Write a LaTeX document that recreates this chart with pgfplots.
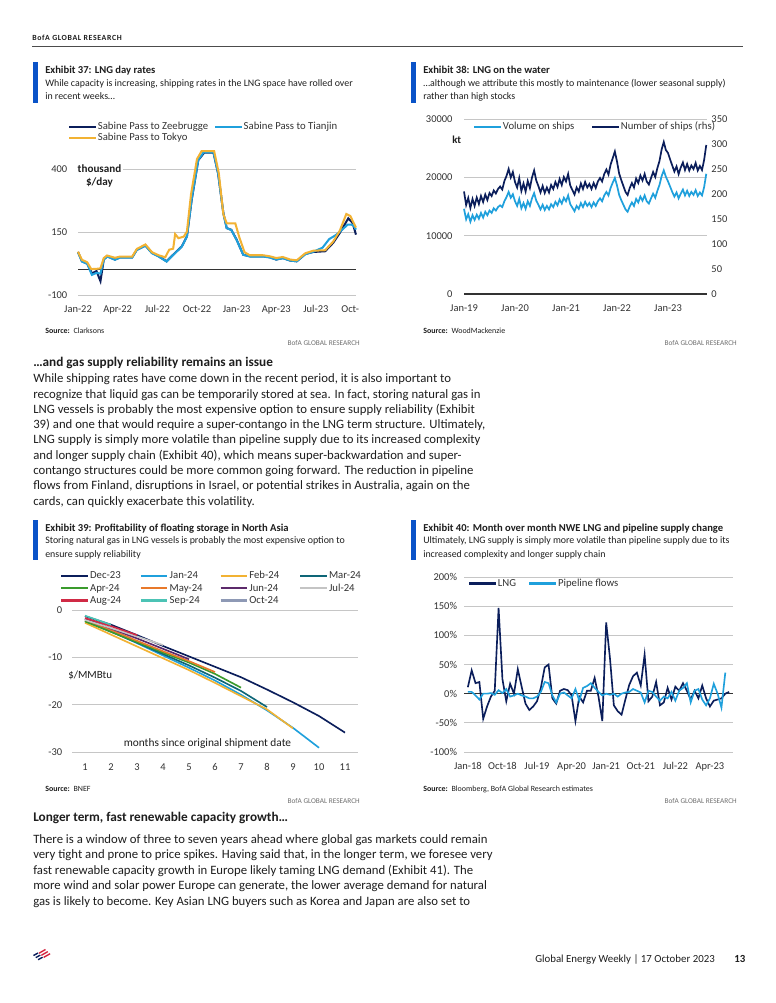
\documentclass[border=0pt]{standalone}
\usepackage{pgfplots}
\pgfplotsset{compat=1.18}
\usepackage{pgfplotstable}
\usepackage{fontspec}
\setmainfont{Carlito}

\definecolor{navy}{HTML}{0B1E5B}
\definecolor{sky}{HTML}{1FA0DC}
\definecolor{gold}{HTML}{F2B233}
\definecolor{barblue}{HTML}{0A53C8}
\definecolor{gridgray}{HTML}{C6C6C6}
\definecolor{ink}{HTML}{1E1E1E}
\definecolor{tickgray}{HTML}{333333}
\definecolor{muted}{HTML}{707070}
\definecolor{bofared}{HTML}{D4213D}
\definecolor{cmar}{HTML}{0E6677}
\definecolor{capr}{HTML}{3A9B2C}
\definecolor{cmay}{HTML}{E8792A}
\definecolor{cjun}{HTML}{5C2A6B}
\definecolor{cjul}{HTML}{C4C4C4}
\definecolor{caug}{HTML}{D02A45}
\definecolor{csep}{HTML}{4CC3B5}
\definecolor{coct}{HTML}{8E99B5}

\newcommand\fs[2]{\fontsize{#1}{#2}\selectfont}
\def\px{0.78968bp}

% Exhibit 38: LNG on the water (semi-monthly reading of the chart)
\pgfplotstableread{
t vol ships
2019.000 14600 205
2019.042 12800 178
2019.083 13700 192
2019.125 12400 172
2019.167 13500 190
2019.208 12700 176
2019.250 13600 193
2019.292 12900 180
2019.333 13900 196
2019.375 13100 184
2019.417 14100 199
2019.458 13500 188
2019.500 14300 202
2019.542 13900 196
2019.583 14700 207
2019.625 14300 201
2019.667 14900 210
2019.708 15200 215
2019.750 14900 209
2019.792 15900 226
2019.833 16600 236
2019.875 17500 250
2019.917 16500 233
2019.958 17100 244
2020.000 15900 224
2020.042 15100 213
2020.083 16300 232
2020.125 14700 206
2020.167 15600 221
2020.208 14600 205
2020.250 15900 226
2020.292 15100 212
2020.333 16400 233
2020.375 17300 247
2020.417 16000 227
2020.458 15300 216
2020.500 14500 203
2020.542 15300 216
2020.583 14400 202
2020.625 15100 213
2020.667 14500 203
2020.708 15400 218
2020.750 14900 210
2020.792 15800 224
2020.833 15200 214
2020.875 16200 230
2020.917 15500 218
2020.958 16500 234
2021.000 15900 225
2021.042 16900 240
2021.083 15400 217
2021.125 14800 208
2021.167 14200 199
2021.208 15100 213
2021.250 14600 205
2021.292 15600 221
2021.333 14900 210
2021.375 15800 224
2021.417 15100 213
2021.458 15600 220
2021.500 14900 210
2021.542 15700 222
2021.583 15100 212
2021.625 15900 225
2021.667 16400 232
2021.708 15900 225
2021.750 16900 240
2021.792 17500 249
2021.833 16900 239
2021.875 18200 259
2021.917 19100 272
2021.958 19900 285
2022.000 18600 265
2022.042 17000 241
2022.083 16100 228
2022.125 15300 216
2022.167 14500 204
2022.208 14100 198
2022.250 15000 212
2022.292 15700 222
2022.333 15100 213
2022.375 16300 231
2022.417 15700 222
2022.458 16700 237
2022.500 16000 227
2022.542 16900 240
2022.583 15900 225
2022.625 15500 219
2022.667 16400 232
2022.708 17200 244
2022.750 16500 234
2022.792 17700 252
2022.833 18700 266
2022.875 20200 289
2022.917 21200 304
2022.958 20100 288
2023.000 19300 282
2023.042 18400 269
2023.083 17500 257
2023.125 16700 245
2023.167 17400 255
2023.208 16400 240
2023.250 17200 253
2023.292 17900 263
2023.333 16900 248
2023.375 17700 260
2023.417 16800 247
2023.458 17500 257
2023.500 17000 250
2023.542 17800 262
2023.583 16800 247
2023.625 17400 256
2023.667 16900 248
2023.708 18300 268
2023.750 20600 298
}\lngwater

\pgfplotsset{
  bofa/.style={
    scale only axis, clip=false,
    axis line style={draw=none},
    tick style={draw=none},
    scaled ticks=false,
    ymajorgrids, grid style={gridgray, line width=0.65pt},
    tick label style={font=\fs{8.3}{9}, text=tickgray},
    xticklabel style={text height=6pt, text depth=1.6pt},
    legend cell align=left,
    legend style={draw=none, fill=none, inner sep=0pt, outer sep=0pt,
      anchor=north west, font=\fs{8.5}{9}, text=tickgray,
      /tikz/column sep=0pt,
      nodes={inner sep=0.6pt, text height=5.8pt, text depth=1.7pt, text=tickgray}},
    legend image code/.code={\draw[##1, line width=2pt] (0bp,0bp) -- (21bp,0bp);},
  },
}

\tikzset{t/.style={anchor=base west, inner sep=0pt, text=ink},
  zero/.style={tickgray, line width=1pt}}

\begin{document}
\begin{tikzpicture}
\begin{scope}[x=\px, y=-\px]
\fill[white] (0,0) rectangle (775,1003);
\path[use as bounding box] (0,0) rectangle (775,1003);

% page header
\node[t, font=\fs{6.2}{7}\bfseries\addfontfeature{LetterSpace=8}] at (32,41) {BofA GLOBAL RESEARCH};
\draw[line width=0.6pt, black!70] (32,46) -- (743,46);

% exhibit headers
\fill[barblue] (33,62) rectangle (38,103);
\fill[barblue] (411,62) rectangle (416,103);
\fill[barblue] (33,520) rectangle (38,560);
\fill[barblue] (411,520) rectangle (416,560);

\node[t, font=\fs{8.4}{10}\bfseries] at (45,74) {Exhibit 37: LNG day rates};
\node[t, font=\fs{7.85}{9}] at (45,86) {While capacity is increasing, shipping rates in the LNG space have rolled over};
\node[t, font=\fs{7.85}{9}] at (45,100) {in recent weeks…};

\node[t, font=\fs{8.4}{10}\bfseries] at (423,74) {Exhibit 38: LNG on the water};
\node[t, font=\fs{7.85}{9}] at (423,86) {…although we attribute this mostly to maintenance (lower seasonal supply)};
\node[t, font=\fs{7.85}{9}] at (423,100) {rather than high stocks};

\node[t, font=\fs{8.4}{10}\bfseries] at (45,531) {Exhibit 39: Profitability of floating storage in North Asia};
\node[t, font=\fs{7.85}{9}] at (45,543) {Storing natural gas in LNG vessels is probably the most expensive option to};
\node[t, font=\fs{7.85}{9}] at (45,557) {ensure supply reliability};

\node[t, font=\fs{8.4}{10}\bfseries] at (423,531) {Exhibit 40: Month over month NWE LNG and pipeline supply change};
\node[t, font=\fs{7.85}{9}] at (423,543) {Ultimately, LNG supply is simply more volatile than pipeline supply due to its};
\node[t, font=\fs{7.85}{9}] at (423,557) {increased complexity and longer supply chain};

% sources and footers
\node[t, font=\fs{6.3}{7}] at (45,333) {\textbf{Source:}\hspace{3pt}Clarksons};
\node[t, font=\fs{6.3}{7}] at (423,333) {\textbf{Source:}\hspace{3pt}WoodMackenzie};
\node[t, font=\fs{6.3}{7}] at (45,791) {\textbf{Source:}\hspace{3pt}BNEF};
\node[t, font=\fs{6.3}{7}] at (423,791) {\textbf{Source:}\hspace{3pt}Bloomberg, BofA Global Research estimates};
\foreach \xx/\yy in {360/345.7, 737/345.7, 360/803, 737/803}
  \node[anchor=base east, inner sep=0pt, font=\fs{5.8}{7}, text=muted] at (\xx,\yy) {BofA GLOBAL RESEARCH};

% body text
\node[t, font=\fs{10.5}{12}\bfseries] at (33,366.7) {…and gas supply reliability remains an issue};
\foreach \l [count=\i from 0] in {
  {While shipping rates have come down in the recent period, it is also important to},
  {recognize that liquid gas can be temporarily stored at sea. In fact, storing natural gas in},
  {LNG vessels is probably the most expensive option to ensure supply reliability (Exhibit},
  {39) and one that would require a super-contango in the LNG term structure. Ultimately,},
  {LNG supply is simply more volatile than pipeline supply due to its increased complexity},
  {and longer supply chain (Exhibit 40), which means super-backwardation and super-},
  {contango structures could be more common going forward. The reduction in pipeline},
  {flows from Finland, disruptions in Israel, or potential strikes in Australia, again on the},
  {cards, can quickly exacerbate this volatility.}}
  \node[t, font=\fs{10.1}{12}] at (33,{382.7+15.3*\i}) {\l};

\node[t, font=\fs{10.5}{12}\bfseries] at (33,821.5) {Longer term, fast renewable capacity growth…};
\foreach \l [count=\i from 0] in {
  {There is a window of three to seven years ahead where global gas markets could remain},
  {very tight and prone to price spikes. Having said that, in the longer term, we foresee very},
  {fast renewable capacity growth in Europe likely taming LNG demand (Exhibit 41). The},
  {more wind and solar power Europe can generate, the lower average demand for natural},
  {gas is likely to become. Key Asian LNG buyers such as Korea and Japan are also set to}}
  \node[t, font=\fs{10.1}{12}] at (33,{843+15.6*\i}) {\l};

% page footer
\node[anchor=base east, inner sep=0pt, font=\fs{8.6}{10}, text=ink] at (715,962) {Global Energy Weekly | 17 October 2023};
\node[anchor=base west, inner sep=0pt, font=\fs{8.6}{10}\bfseries, text=ink] at (734,962) {13};
\foreach \k in {0,1,2} {
  \draw[navy, line width=1.1pt] ({33.5+2.3*\k},{955.5+2.1*\k}) -- ({38+2.3*\k},{953+2.1*\k});
  \draw[bofared, line width=1.1pt] ({39+2.3*\k},{953.2+2.1*\k}) -- ({45.5+2.3*\k},{949.5+2.1*\k});
}
\end{scope}

% ---------- Exhibit 37 ----------
\begin{axis}[bofa, at={(78*\px,-295*\px)}, anchor=south west,
  width=219.5bp, height=119.2bp,
  xmin=0, xmax=21.03, ymin=-100, ymax=500,
  ytick={-100,150,400}, yticklabels={-100,150,400},
  xtick={0,3,...,21},
  xticklabels={Jan-22,Apr-22,Jul-22,Oct-22,Jan-23,Apr-23,Jul-23,Oct-\phantom{23}},
  yticklabel style={xshift=-5pt}, xticklabel style={yshift=-4pt},
  legend columns=2, legend style={at={(-0.036,1.149)}},
]
\draw[zero] (axis cs:0,0) -- (axis cs:21.03,0);
\addplot[navy, line width=1.6pt] coordinates {
(0,71)(0.3,34)(0.7,25)(1.05,-14)(1.4,-5)(1.7,-45)(1.95,41)(2.2,54)(2.8,41)(3.2,50)
(4.1,50)(4.45,80)(5.1,97)(5.6,67)(6.1,54)(6.7,34)(7.2,60)(7.85,93)(8.24,133)(8.6,278)
(9.1,436)(9.55,466)(10.25,466)(10.6,383)(11.0,225)(11.25,166)(11.6,159)(12.0,120)(12.5,60)
(13.0,54)(14.0,54)(14.5,50)(15.0,41)(15.5,47)(16.05,37)(16.55,34)(17.2,63)(17.8,71)
(18.7,74)(19.3,107)(19.8,146)(20.45,205)(20.78,186)(21.03,140)};
\addlegendentry{\makebox[91bp][l]{Sabine Pass to Zeebrugge}}
\addplot[sky, line width=1.6pt] coordinates {
(0,70)(0.3,33)(0.7,24)(1.05,-20)(1.4,-12)(1.7,-15)(1.95,40)(2.2,53)(2.8,40)(3.2,49)
(4.1,49)(4.45,79)(5.1,96)(5.6,66)(6.1,53)(6.7,33)(7.2,59)(7.85,92)(8.24,132)(8.6,280)
(9.1,437)(9.5,467)(10.25,467)(10.6,384)(11.0,224)(11.25,166)(11.6,158)(12.0,119)(12.5,60)
(13.0,53)(14.0,53)(14.5,49)(15.0,41)(15.5,46)(16.05,37)(16.55,34)(17.2,62)(17.8,72)
(18.5,88)(19.0,122)(19.5,138)(20.0,160)(20.4,180)(20.8,179)(21.03,160)};
\addlegendentry{Sabine Pass to Tianjin}
\addplot[gold, line width=1.6pt] coordinates {
(0,72)(0.3,40)(0.7,30)(1.0,3)(1.4,4)(1.7,6)(1.95,47)(2.2,57)(2.8,48)(3.2,53)
(4.1,53)(4.45,83)(5.1,101)(5.6,70)(6.1,58)(6.6,50)(6.9,80)(7.2,84)(7.35,142)(7.6,126)
(8.0,132)(8.24,152)(8.55,300)(9.0,440)(9.35,472)(10.3,472)(10.65,385)(11.0,220)(11.25,185)
(11.9,185)(12.2,130)(12.6,70)(13.0,58)(14.0,58)(14.5,54)(15.0,47)(15.5,51)(16.05,41)
(16.55,38)(17.2,66)(17.8,76)(18.7,78)(19.3,112)(19.8,155)(20.3,222)(20.6,214)(21.03,168)};
\addlegendentry{Sabine Pass to Tokyo}
\end{axis}

% ---------- Exhibit 38 ----------
\begin{axis}[bofa, at={(464*\px,-294*\px)}, anchor=south west,
  width=191.9bp, height=138.2bp,
  xmin=2019, xmax=2023.765, ymin=0, ymax=30000,
  ytick={0,10000,20000,30000}, yticklabels={0,10000,20000,30000},
  xtick={2019,2020,2021,2022,2023},
  xticklabels={Jan-19,Jan-20,Jan-21,Jan-22,Jan-23},
  yticklabel style={xshift=-5.6pt}, xticklabel style={yshift=-4pt},
]
\draw[zero] (axis cs:2019,0) -- (axis cs:2023.765,0);
\addplot[sky, line width=1.35pt] table[x=t, y=vol] {\lngwater};
\end{axis}
\begin{axis}[bofa, at={(464*\px,-294*\px)}, anchor=south west,
  width=191.9bp, height=138.2bp, hide x axis, ymajorgrids=false,
  xmin=2019, xmax=2023.765, ymin=0, ymax=350,
  ytick={0,50,100,150,200,250,300,350},
  yticklabels={0,50,100,150,200,250,300,350},
  yticklabel pos=right,
  legend columns=2, legend style={at={(0.037,0.986)}},
]
\addlegendimage{sky, line width=1.35pt}
\addlegendentry{\makebox[69bp][l]{Volume on ships}}
\addplot[navy, line width=1.35pt] table[x=t, y=ships] {\lngwater};
\addlegendentry{Number of ships (rhs)}
\end{axis}

% ---------- Exhibit 39 ----------
\begin{axis}[bofa, at={(72*\px,-752*\px)}, anchor=south west,
  width=225.85bp, height=112.13bp,
  xmin=0.5, xmax=11.5, ymin=-30, ymax=0,
  ytick={-30,-20,-10,0}, yticklabels={-30,-20,-10,0},
  xtick={1,...,11}, xticklabels={1,2,3,4,5,6,7,8,9,10,11},
  yticklabel style={xshift=-4.3pt}, xticklabel style={yshift=-5pt},
  legend columns=4,
  legend style={at={(-0.042,1.284)},
    nodes={text height=6.3pt, text depth=1.9pt, inner sep=0.8pt}},
]
\addplot[navy, line width=1.3pt] coordinates {(1,-1.3)(2,-3.1)(3,-5.3)(4,-7.6)(5,-9.8)(6,-12.0)(7,-14.2)(8,-16.8)(9,-19.5)(10,-22.4)(11,-25.9)};
\addlegendentry{\makebox[38.3bp][l]{Dec-23}}
\addplot[sky, line width=1.3pt] coordinates {(1,-1.9)(2,-4.5)(3,-7.0)(4,-9.6)(5,-12.2)(6,-14.9)(7,-17.9)(8,-21.2)(9,-24.9)(10,-29.1)};
\addlegendentry{\makebox[38.3bp][l]{Jan-24}}
\addplot[gold, line width=1.3pt] coordinates {(1,-2.7)(2,-5.2)(3,-7.7)(4,-10.2)(5,-12.7)(6,-15.4)(7,-18.2)(8,-21.0)(9,-25.0)};
\addlegendentry{\makebox[38.3bp][l]{Feb-24}}
\addplot[cmar, line width=1.3pt] coordinates {(1,-2.3)(2,-4.6)(3,-6.9)(4,-9.3)(5,-11.7)(6,-14.3)(7,-17.1)(8,-20.5)};
\addlegendentry{Mar-24}
\addplot[capr, line width=1.3pt] coordinates {(1,-2.4)(2,-4.6)(3,-6.8)(4,-9.0)(5,-11.1)(6,-13.5)(7,-16.4)};
\addlegendentry{\makebox[38.3bp][l]{Apr-24}}
\addplot[cmay, line width=1.3pt] coordinates {(1,-2.0)(2,-4.2)(3,-6.5)(4,-8.7)(5,-10.8)(6,-13.1)};
\addlegendentry{\makebox[38.3bp][l]{May-24}}
\addplot[cjun, line width=1.3pt] coordinates {(1,-1.8)(2,-3.9)(3,-6.0)(4,-8.2)(5,-10.4)};
\addlegendentry{\makebox[38.3bp][l]{Jun-24}}
\addplot[cjul, line width=1.3pt] coordinates {(1,-2.1)(2,-3.8)(3,-5.6)(4,-7.4)};
\addlegendentry{Jul-24}
\addplot[caug, line width=1.3pt] coordinates {(1,-1.7)(2,-3.4)(3,-5.3)};
\addlegendentry{\makebox[38.3bp][l]{Aug-24}}
\addplot[csep, line width=1.3pt] coordinates {(1,-1.2)(2,-3.1)};
\addlegendentry{\makebox[38.3bp][l]{Sep-24}}
\addplot[coct, line width=1.3pt] coordinates {(1,-1.5)};
\addlegendentry{Oct-24}
\end{axis}

% ---------- Exhibit 40 ----------
\begin{axis}[bofa, at={(464*\px,-752*\px)}, anchor=south west,
  width=212.4bp, height=138.2bp,
  xmin=-1, xmax=69, ymin=-100, ymax=200,
  ytick={-100,-50,0,50,100,150,200},
  yticklabels={-100\%,-50\%,0\%,50\%,100\%,150\%,200\%},
  xtick={0,9,18,27,36,45,54,63},
  xticklabels={Jan-18,Oct-18,Jul-19,Apr-20,Jan-21,Oct-21,Jul-22,Apr-23},
  yticklabel style={xshift=-2pt}, xticklabel style={yshift=-4.5pt},
  legend columns=2, legend style={at={(0.015,0.994)}},
]
\draw[zero] (axis cs:-1,0) -- (axis cs:69,0);
\addplot[navy, line width=1.3pt] coordinates {
(0,11)(1,40)(2,18)(3,20)(4,-43)(5,-22)(6,-5)(7,5)(8,147)(9,25)
(10,-13)(11,17)(12,0)(13,42)(14,12)(15,-17)(16,-28)(17,-22)(18,-13)(19,10)
(20,45)(21,50)(22,-8)(23,-17)(24,5)(25,8)(26,6)(27,-3)(28,-47)(29,-5)
(30,-15)(31,5)(32,5)(33,27)(34,-5)(35,-47)(36,122)(37,60)(38,-20)(39,-30)
(40,-36)(41,-10)(42,15)(43,30)(44,36)(45,14)(46,67)(47,-13)(48,-5)(49,20)
(50,-20)(51,-15)(52,10)(53,-10)(54,12)(55,5)(56,18)(57,5)(58,-10)(59,5)
(60,-8)(61,14)(62,-8)(63,-22)(64,-12)(65,-10)(66,-8)(67,0)(68,3)};
\addlegendentry{\makebox[23.3bp][l]{LNG}}
\addplot[sky, line width=1.3pt] coordinates {
(0,3)(1,3)(2,-3)(3,-10)(4,0)(5,0)(6,1)(7,-2)(8,6)(9,1)
(10,8)(11,-5)(12,-3)(13,0)(14,-3)(15,-5)(16,-8)(17,-8)(18,-5)(19,3)
(20,20)(21,18)(22,-3)(23,-15)(24,0)(25,2)(26,-3)(27,-8)(28,8)(29,-12)
(30,10)(31,13)(32,18)(33,10)(34,3)(35,-3)(36,0)(37,-2)(38,0)(39,-5)
(40,0)(41,2)(42,3)(43,8)(44,5)(45,2)(46,-15)(47,5)(48,3)(49,-5)
(50,-12)(51,-5)(52,-8)(53,3)(54,-12)(55,5)(56,10)(57,18)(58,-15)(59,5)
(60,8)(61,-10)(62,-20)(63,-8)(64,17)(65,0)(66,-24)(67,36)};
\addlegendentry{Pipeline flows}
\end{axis}

% unit labels
\begin{scope}[x=\px, y=-\px]
\node[fill=white, inner sep=1pt, align=center, text=ink, font=\fs{8.8}{10}\bfseries] at (99.5,176) {thousand\\\$/day};
\node[anchor=base west, inner sep=0pt, text=ink, font=\fs{8.5}{10}\bfseries] at (452,143) {kt};
\node[anchor=base west, inner sep=0pt, text=ink, font=\fs{8.7}{10}] at (68,678) {\$/MMBtu};
\node[anchor=base, inner sep=0pt, text=ink, font=\fs{9}{10}] at (207.5,746) {months since original shipment date};
\end{scope}
\end{tikzpicture}
\end{document}
